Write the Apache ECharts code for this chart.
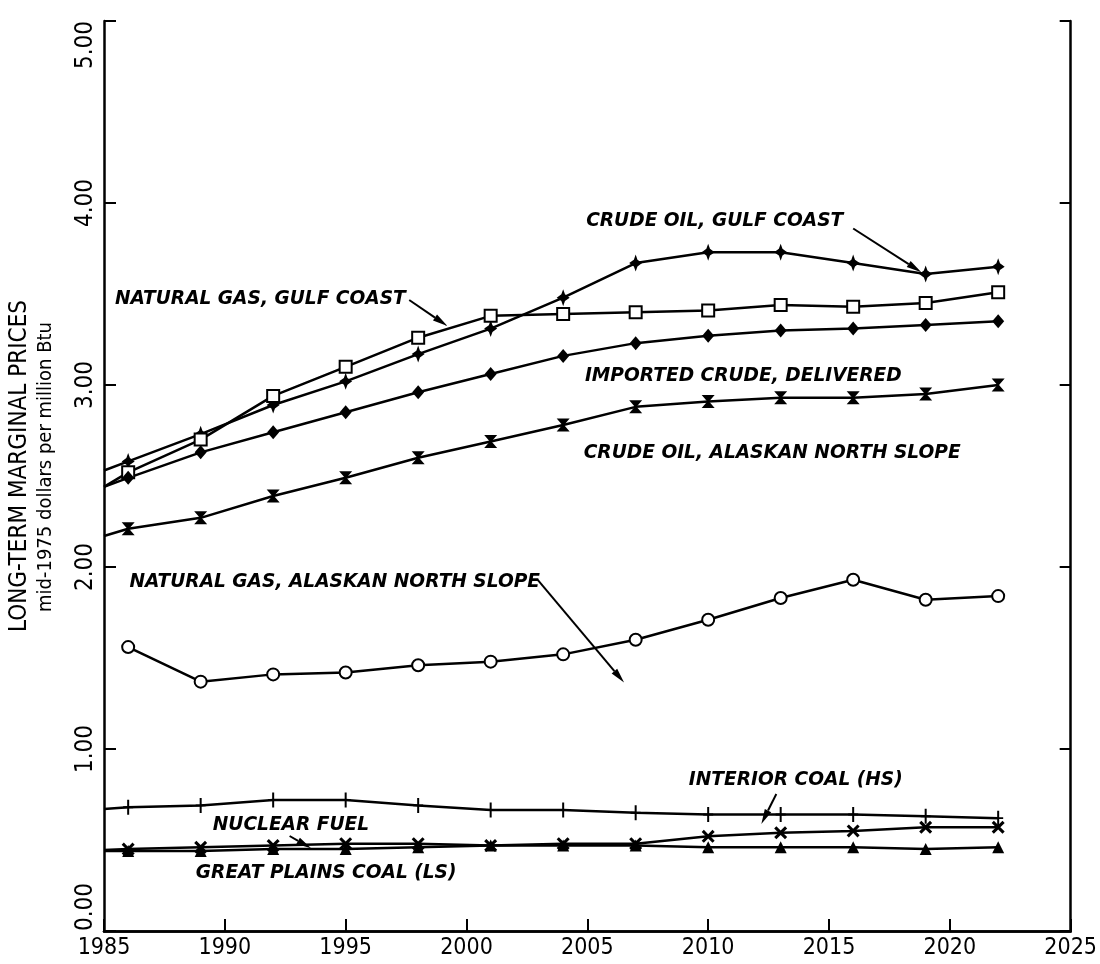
<!DOCTYPE html>
<html>
<head>
<meta charset="utf-8">
<script src="https://cdn.jsdelivr.net/npm/echarts@6/dist/echarts.min.js"></script>
</head>
<body style="margin:0;background:#fff">
<div id="main" style="width:1100px;height:964px"></div>
<script>
// years with 3-year steps; 1985 is where some lines start without a marker
var years = [1985, 1986, 1989, 1992, 1995, 1998, 2001, 2004, 2007, 2010, 2013, 2016, 2019, 2022];
var crudeGulf     = [2.53, 2.58, 2.73, 2.89, 3.02, 3.17, 3.31, 3.48, 3.67, 3.73, 3.73, 3.67, 3.61, 3.65];
var gasGulf       = [2.44, 2.52, 2.70, 2.94, 3.10, 3.26, 3.38, 3.39, 3.40, 3.41, 3.44, 3.43, 3.45, 3.51];
var importedCrude = [2.44, 2.49, 2.63, 2.74, 2.85, 2.96, 3.06, 3.16, 3.23, 3.27, 3.30, 3.31, 3.33, 3.35];
var crudeAlaska   = [2.17, 2.21, 2.27, 2.39, 2.49, 2.60, 2.69, 2.78, 2.88, 2.91, 2.93, 2.93, 2.95, 3.00];
var gasAlaska     = [null, 1.56, 1.37, 1.41, 1.42, 1.46, 1.48, 1.52, 1.60, 1.71, 1.83, 1.93, 1.82, 1.84];
var interiorCoal  = [0.67, 0.68, 0.69, 0.72, 0.72, 0.69, 0.665, 0.665, 0.65, 0.64, 0.64, 0.64, 0.63, 0.62];
var nuclearFuel   = [0.445, 0.45, 0.46, 0.47, 0.48, 0.48, 0.47, 0.48, 0.48, 0.52, 0.54, 0.55, 0.57, 0.57];
var plainsCoal    = [0.44, 0.44, 0.44, 0.45, 0.45, 0.46, 0.47, 0.47, 0.47, 0.46, 0.46, 0.46, 0.45, 0.46];

var xTicks = [1985, 1990, 1995, 2000, 2005, 2010, 2015, 2020, 2025];
var yTicks = [0, 1, 2, 3, 4, 5];

var chart = echarts.init(document.getElementById('main'));

function pts(vals) {
    return years.map(function (yr, i) {
        var d = { value: [yr, vals[i]] };
        if (yr === 1985) d.symbol = 'none';
        return d;
    });
}

function line(name, vals, symbol, size, empty) {
    return {
        name: name,
        type: 'line',
        data: pts(vals),
        symbol: symbol,
        symbolSize: size,
        showAllSymbol: true,
        connectNulls: false,
        lineStyle: { color: '#000', width: 2.5 },
        itemStyle: empty ? { color: '#000', borderColor: '#000', borderWidth: 2.5 }
                         : { color: '#000', borderWidth: 0 },
        emphasis: { disabled: true },
        z: 3
    };
}

var crudeMark = 'path://M0,-10L1.8,-4L6.5,0L1.8,4L0,10L-1.8,4L-6.5,0L-1.8,-4Z';
var hourglass = 'path://M-6,-6L6,-6L0.8,0L6,6L-6,6L-0.8,0Z';
var plusMark  = 'path://M-1,-8H1V-1H5V1H1V8H-1V1H-5V-1H-1Z';
var crossMark = 'path://M-6,-4L-4,-6L0,-2L4,-6L6,-4L2,0L6,4L4,6L0,2L-4,6L-6,4L-2,0Z';

var tickFont = '"DejaVu Sans Condensed", "Liberation Sans Narrow", sans-serif';

var option = {
    animation: false,
    backgroundColor: '#fff',
    grid: { left: 104, right: 27, top: 21, bottom: 33 },
    xAxis: [{
        type: 'value', min: 1985, max: 2025, interval: 5,
        axisLine: { lineStyle: { color: '#000', width: 2.5 } },
        axisTick: { inside: true, length: 12, lineStyle: { color: '#000', width: 2 } },
        axisLabel: { color: '#000', fontSize: 23, fontFamily: tickFont, margin: 6,
            formatter: function (v) { return xTicks.indexOf(v) >= 0 ? String(v) : ''; } },
        splitLine: { show: false }
    }, {
        type: 'value', position: 'top', min: 1985, max: 2025, interval: 5,
        axisLine: { show: true, lineStyle: { color: '#000', width: 2.5 } },
        axisTick: { show: false }, axisLabel: { show: false }, splitLine: { show: false }
    }],
    yAxis: [{
        type: 'value', min: 0, max: 5, interval: 1,
        axisLine: { show: true, lineStyle: { color: '#000', width: 2.5 } },
        axisTick: { inside: true, length: 12, lineStyle: { color: '#000', width: 2 } },
        axisLabel: { color: '#000', fontSize: 24, fontFamily: tickFont, rotate: 90, margin: 6,
            alignMinLabel: 'left', alignMaxLabel: 'right',
            formatter: function (v) { return yTicks.indexOf(v) >= 0 ? v.toFixed(2) : ''; } },
        splitLine: { show: false }
    }, {
        type: 'value', position: 'right', min: 0, max: 5, interval: 1,
        axisLine: { show: true, lineStyle: { color: '#000', width: 2.5 } },
        axisTick: { inside: true, length: 11, lineStyle: { color: '#000', width: 2 } },
        axisLabel: { show: false }, splitLine: { show: false }
    }],
    series: [
        line('Crude oil, Gulf Coast', crudeGulf, crudeMark, [13, 17], false),
        line('Natural gas, Gulf Coast', gasGulf, 'emptyRect', 12, true),
        line('Imported crude, delivered', importedCrude, 'diamond', [12, 14], false),
        line('Crude oil, Alaskan North Slope', crudeAlaska, hourglass, [13, 13], false),
        line('Natural gas, Alaskan North Slope', gasAlaska, 'emptyCircle', 12, true),
        line('Interior coal (HS)', interiorCoal, plusMark, [10, 15], false),
        line('Nuclear fuel', nuclearFuel, crossMark, 13, false),
        line('Great Plains coal (LS)', plainsCoal, 'triangle', 12, false)
    ]
};
chart.setOption(option);

// annotations, anchored in data units
var notes = [
    { text: 'CRUDE OIL, GULF COAST', at: [2004.95, 3.90] },
    { text: 'NATURAL GAS, GULF COAST', at: [1985.45, 3.47] },
    { text: 'IMPORTED CRUDE, DELIVERED', at: [2004.9, 3.05] },
    { text: 'CRUDE OIL, ALASKAN NORTH SLOPE', at: [2004.85, 2.625] },
    { text: 'NATURAL GAS, ALASKAN NORTH SLOPE', at: [1986.05, 1.915] },
    { text: 'INTERIOR COAL (HS)', at: [2009.2, 0.83] },
    { text: 'NUCLEAR FUEL', at: [1989.5, 0.582] },
    { text: 'GREAT PLAINS COAL (LS)', at: [1988.8, 0.319] }
];
var arrows = [
    [[2016.0, 3.86], [2018.82, 3.62]],
    [[1997.63, 3.467], [1999.21, 3.324]],
    [[2002.93, 1.932], [2006.52, 1.365]],
    [[2012.82, 0.753], [2012.2, 0.588]],
    [[1992.68, 0.522], [1993.57, 0.454]]
];

function px(p) { return chart.convertToPixel({ xAxisIndex: 0, yAxisIndex: 0 }, p); }

var g = [];
notes.forEach(function (n) {
    var p = px(n.at);
    g.push({
        type: 'text', x: p[0], y: p[1], z: 10,
        style: { text: n.text, fill: '#000', align: 'left', verticalAlign: 'middle',
            font: 'italic bold 18.6px "DejaVu Sans", sans-serif' }
    });
});
arrows.forEach(function (a) {
    var p1 = px(a[0]), p2 = px(a[1]);
    var dx = p2[0] - p1[0], dy = p2[1] - p1[1];
    var len = Math.sqrt(dx * dx + dy * dy);
    var ux = dx / len, uy = dy / len;
    var hl = 15, hw = 3.6;
    var bx = p2[0] - ux * hl, by = p2[1] - uy * hl;
    g.push({ type: 'line', z: 10, shape: { x1: p1[0], y1: p1[1], x2: bx, y2: by },
        style: { stroke: '#000', lineWidth: 2 } });
    g.push({ type: 'polygon', z: 10,
        shape: { points: [[p2[0], p2[1]], [bx - uy * hw, by + ux * hw], [bx + uy * hw, by - ux * hw]] },
        style: { fill: '#000' } });
});
// axis title, two lines
g.push({ type: 'text', x: 20, y: 466, rotation: Math.PI / 2, z: 10,
    style: { text: 'LONG-TERM MARGINAL PRICES', fill: '#000', align: 'center', verticalAlign: 'middle',
        font: '24px ' + tickFont } });
g.push({ type: 'text', x: 46, y: 467, rotation: Math.PI / 2, z: 10,
    style: { text: 'mid-1975 dollars per million Btu', fill: '#000', align: 'center', verticalAlign: 'middle',
        font: '20px ' + tickFont } });
chart.setOption({ graphic: g });

window.addEventListener('resize', chart.resize);
</script>
</body>
</html>
